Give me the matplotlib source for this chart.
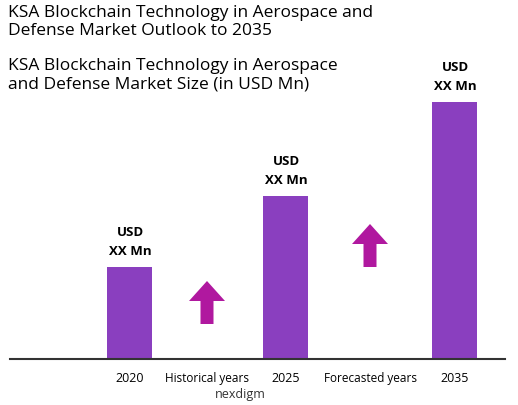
import matplotlib.pyplot as plt
from matplotlib.patches import FancyArrow

years = ["2020", "2025", "2035"]
sizes = [92, 163, 257]
bar_labels = ["USD\nXX Mn", "USD\nXX Mn", "USD\nXX Mn"]

plt.rcParams['font.family'] = ['Open Sans', 'DejaVu Sans']

fig = plt.figure(figsize=(5.18, 4.06), dpi=100)
ax = fig.add_axes([10 / 518, 1 - 360 / 406, 495 / 518, 360 / 406])
ax.set_xlim(10, 505)
ax.set_ylim(0, 360)

x_pos = [130, 286, 455]
ax.bar(x_pos, sizes, width=45, color="#8a3fbf")
for x, h, t in zip(x_pos, sizes, bar_labels):
    ax.text(x, h + 10, t, ha="center", va="bottom", fontsize=9.5,
            fontweight="bold", linespacing=1.6)

# arrows
for x, y0 in [(207, 35), (370, 92)]:
    ax.add_patch(FancyArrow(x, y0, 0, 43, width=13, head_width=36,
                            head_length=20, length_includes_head=True,
                            color="#b0189f", lw=0))

for s in ["top", "right", "left"]:
    ax.spines[s].set_visible(False)
ax.spines["bottom"].set_color("#333333")
ax.spines["bottom"].set_linewidth(1.5)
ax.set_yticks([])
ax.set_xticks([])

for x, t in zip(x_pos, years):
    fig.text(x / 518, 1 - 379 / 406, t, ha="center", va="center", fontsize=9)
fig.text(207 / 518, 1 - 379 / 406, "Historical years", ha="center", va="center", fontsize=8.5)
fig.text(371 / 518, 1 - 379 / 406, "Forecasted years", ha="center", va="center", fontsize=8.5)
fig.text(240 / 518, 1 - 395 / 406, "nexdigm", ha="center", va="center",
         fontsize=9, color="#333333")

fig.text(8 / 518, 1 - 5 / 406,
         "KSA Blockchain Technology in Aerospace and\nDefense Market Outlook to 2035",
         ha="left", va="top", fontsize=12.5, linespacing=1.2)
fig.text(8 / 518, 1 - 58 / 406,
         "KSA Blockchain Technology in Aerospace\nand Defense Market Size (in USD Mn)",
         ha="left", va="top", fontsize=12.5, linespacing=1.2)

fig.savefig("out.png", dpi=100)
